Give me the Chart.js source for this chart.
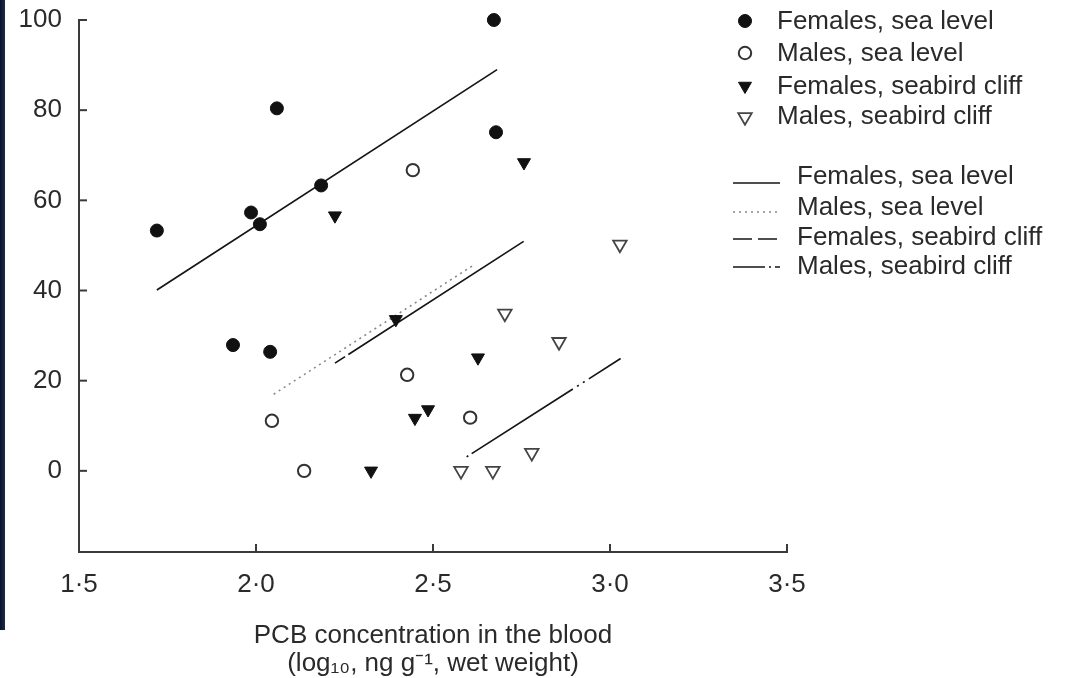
<!DOCTYPE html>
<html>
<head>
<meta charset="utf-8">
<script src="https://cdn.jsdelivr.net/npm/chart.js@4.4.1/dist/chart.umd.min.js"></script>
<style>
html,body{margin:0;padding:0;background:#fff;}
#wrap{position:relative;width:1067px;height:678px;}
#strip{position:absolute;left:0;top:0;width:5px;height:630px;background:linear-gradient(to right,#08122a,#1c2b4c);}
</style>
</head>
<body>
<div id="wrap"><canvas id="c"></canvas><div id="strip"></div></div>
<script>
// ---- data ----
const seriesNames = ['Females, sea level', 'Males, sea level', 'Females, seabird cliff', 'Males, seabird cliff'];
const xTicks = [1.5, 2.0, 2.5, 3.0, 3.5];
const xTickLabels = ['1·5', '2·0', '2·5', '3·0', '3·5'];
const yTicks = [0, 20, 40, 60, 80, 100];
const xTitle = ['PCB concentration in the blood', '(log₁₀, ng g⁻¹, wet weight)'];

const femSeaX = [1.72, 1.935, 1.986, 2.011, 2.040, 2.059, 2.184, 2.672, 2.678];
const femSeaY = [53.3, 27.9, 57.3, 54.7, 26.4, 80.4, 63.3, 100, 75.1];
const maleSeaX = [2.443, 2.045, 2.136, 2.427, 2.605];
const maleSeaY = [66.7, 11.1, 0, 21.3, 11.8];
const femCliffX = [2.223, 2.325, 2.395, 2.627, 2.757, 2.449, 2.486];
const femCliffY = [56.6, 0, 33.6, 25.1, 68.4, 11.7, 13.6];
const maleCliffX = [2.703, 2.856, 3.028, 2.579, 2.669, 2.779];
const maleCliffY = [34.9, 28.6, 50.2, 0, 0, 4.0];

const femSeaLineX = [1.72, 2.681];
const femSeaLineY = [40.1, 89.0];
const maleSeaLineX = [2.05, 2.61];
const maleSeaLineY = [17.0, 45.4];
const femCliffLineX = [2.223, 2.756];
const femCliffLineY = [23.9, 50.9];
const maleCliffLineX = [2.595, 3.030];
const maleCliffLineY = [3.1, 24.9];

// ---- styling ----
const FONT = '"Liberation Sans", Arial, Helvetica, sans-serif';
const TEXT = '#2a2a2a';
const AXIS = '#3a3a3a';
const pts = (xs, ys) => xs.map((x, i) => ({ x: x, y: ys[i] }));

const markerStyles = [
  { pointStyle: 'circle', radius: 6.5, rotation: 0, bg: '#111', border: '#111', bw: 1 },
  { pointStyle: 'circle', radius: 6.2, rotation: 0, bg: '#fff', border: '#333', bw: 2 },
  { pointStyle: 'triangle', radius: 7.5, rotation: 180, bg: '#111', border: '#111', bw: 1 },
  { pointStyle: 'triangle', radius: 7.8, rotation: 180, bg: '#fff', border: '#444', bw: 1.8 }
];
const lineStyles = [
  { color: '#151515', width: 1.7, dash: [] },
  { color: '#888', width: 1.6, dash: [2, 4] },
  { color: '#151515', width: 1.7, dash: [12, 4, 400, 4] },
  { color: '#151515', width: 1.7, dash: [2, 4, 120, 5, 2, 5, 2, 5, 80, 4] }
];

const pointSets = [pts(femSeaX, femSeaY), pts(maleSeaX, maleSeaY), pts(femCliffX, femCliffY), pts(maleCliffX, maleCliffY)];
const lineSets = [pts(femSeaLineX, femSeaLineY), pts(maleSeaLineX, maleSeaLineY), pts(femCliffLineX, femCliffLineY), pts(maleCliffLineX, maleCliffLineY)];

const datasets = [];
pointSets.forEach((d, i) => {
  const s = markerStyles[i];
  datasets.push({
    label: seriesNames[i], data: d, showLine: false, clip: false,
    pointStyle: s.pointStyle, pointRadius: s.radius, pointRotation: s.rotation,
    pointBackgroundColor: s.bg, pointBorderColor: s.border, pointBorderWidth: s.bw
  });
});
lineSets.forEach((d, i) => {
  const s = lineStyles[i];
  datasets.push({
    label: seriesNames[i] + ' (fit)', data: d, showLine: true, clip: false,
    pointRadius: 0, borderColor: s.color, borderWidth: s.width, borderDash: s.dash,
    fill: false, tension: 0
  });
});

function drawMarker(ctx, s, x, y) {
  ctx.save();
  ctx.fillStyle = s.bg; ctx.strokeStyle = s.border; ctx.lineWidth = s.bw;
  ctx.beginPath();
  if (s.pointStyle === 'circle') {
    ctx.arc(x, y, s.radius, 0, Math.PI * 2);
  } else {
    let rad = s.rotation * Math.PI / 180;
    for (let k = 0; k < 3; k++) {
      const px = x + Math.sin(rad) * s.radius, py = y - Math.cos(rad) * s.radius;
      if (k === 0) ctx.moveTo(px, py); else ctx.lineTo(px, py);
      rad += 2 * Math.PI / 3;
    }
    ctx.closePath();
  }
  ctx.fill(); ctx.stroke();
  ctx.restore();
}

const tickMarks = {
  id: 'tickMarks',
  afterDraw(chart) {
    const { ctx, chartArea, scales: { x, y } } = chart;
    ctx.save();
    ctx.strokeStyle = AXIS; ctx.lineWidth = 2;
    yTicks.forEach(v => {
      const py = y.getPixelForValue(v);
      ctx.beginPath(); ctx.moveTo(chartArea.left, py); ctx.lineTo(chartArea.left + 8, py); ctx.stroke();
    });
    xTicks.slice(1).forEach(v => {
      const px = x.getPixelForValue(v);
      ctx.beginPath(); ctx.moveTo(px, chartArea.bottom); ctx.lineTo(px, chartArea.bottom - 8); ctx.stroke();
    });
    ctx.restore();
  }
};

const customLegend = {
  id: 'customLegend',
  afterDraw(chart) {
    const ctx = chart.ctx;
    ctx.save();
    ctx.font = '26px ' + FONT;
    ctx.fillStyle = TEXT;
    ctx.textBaseline = 'middle';
    ctx.textAlign = 'left';
    const mY = [21, 53, 86, 117];
    const mTextY = [22, 54, 87, 117];
    seriesNames.forEach((name, i) => {
      drawMarker(ctx, markerStyles[i], 745, mY[i]);
      ctx.fillText(name, 777, mTextY[i]);
    });
    const lY = [183, 212, 239, 267];
    const lTextY = [177, 208, 238, 267];
    const legendDash = [[], [2, 4], [19, 6], [32, 4, 2, 4]];
    seriesNames.forEach((name, i) => {
      const s = lineStyles[i];
      ctx.save();
      ctx.strokeStyle = s.color; ctx.lineWidth = s.width;
      ctx.setLineDash(legendDash[i]);
      ctx.beginPath(); ctx.moveTo(733, lY[i]); ctx.lineTo(780, lY[i]); ctx.stroke();
      ctx.restore();
      ctx.fillText(name, 797, lTextY[i]);
    });
    ctx.restore();
  }
};

new Chart(document.getElementById('c'), {
  type: 'scatter',
  data: { datasets: datasets },
  options: {
    responsive: true,
    maintainAspectRatio: false,
    animation: false,
    events: [],
    layout: { padding: { left: 0, top: 20, right: 280, bottom: 0 } },
    plugins: { legend: { display: false }, tooltip: { enabled: false } },
    scales: {
      x: {
        type: 'linear', min: 1.5, max: 3.5,
        afterBuildTicks: s => { s.ticks = xTicks.map(v => ({ value: v })); },
        afterFit: s => { s.height = 126; s.paddingLeft = 0; s.paddingRight = 0; },
        ticks: {
          callback: (v, i) => xTickLabels[i],
          font: { family: FONT, size: 26, lineHeight: 1.2 }, color: TEXT,
          padding: 17, maxRotation: 0, autoSkip: false
        },
        grid: { display: true, drawOnChartArea: false, drawTicks: false },
        border: { display: true, color: AXIS, width: 2 },
        title: {
          display: true, text: xTitle,
          font: { family: FONT, size: 26, lineHeight: 28 / 26 }, color: TEXT,
          padding: { top: 0, bottom: 0 }
        }
      },
      y: {
        type: 'linear', min: -18, max: 100,
        afterBuildTicks: s => { s.ticks = yTicks.map(v => ({ value: v })); },
        afterFit: s => { s.width = 79; s.paddingTop = 0; s.paddingBottom = 0; },
        ticks: {
          callback: v => String(v),
          font: { family: FONT, size: 26, lineHeight: 1.2 }, color: TEXT,
          padding: 17, autoSkip: false
        },
        grid: { display: true, drawOnChartArea: false, drawTicks: false },
        border: { display: true, color: AXIS, width: 2 }
      }
    }
  },
  plugins: [tickMarks, customLegend]
});
</script>
</body>
</html>
